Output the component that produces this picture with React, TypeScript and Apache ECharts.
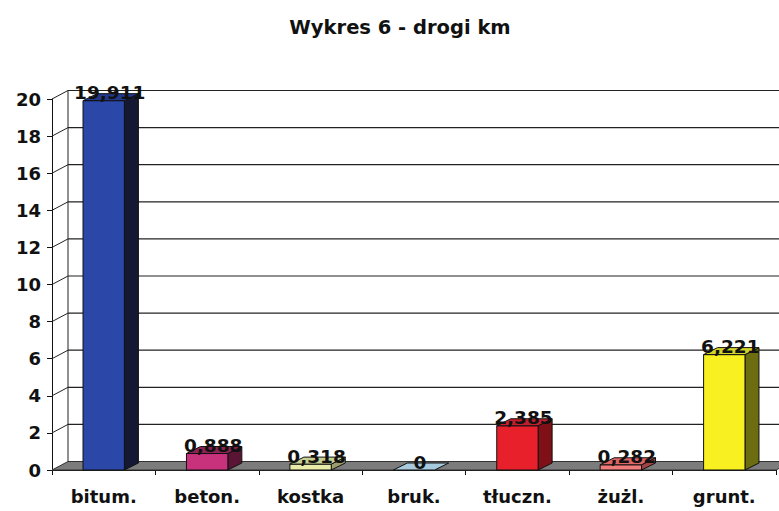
import React, { useEffect, useRef } from "react";
import * as echarts from "echarts";

const categories = ["bitum.", "beton.", "kostka", "bruk.", "tłuczn.", "żużl.", "grunt."];
const values = [19.911, 0.888, 0.318, 0, 2.385, 0.282, 6.221];
const tickValues = [0, 2, 4, 6, 8, 10, 12, 14, 16, 18, 20];

const frontColors = ["#2b47a8", "#c8327c", "#e8eca8", "#a8cade", "#e8202c", "#f07c7c", "#f8f020"];
const topColors = ["#22388a", "#8e2254", "#c8d092", "#a8cade", "#c41e2c", "#e06464", "#d4d42a"];
const sideColors = ["#141833", "#5a1535", "#9c9c6c", "#7a98aa", "#801018", "#a04444", "#6c6c10"];

const FONT = '"DejaVu Sans", sans-serif';
const DX = 16;
const DY = -8.5;
const BDX = 14;
const BDY = -7;

function fmt(v: number) {
  return v === 0 ? "0" : v.toFixed(3).replace(".", ",");
}

export default function App() {
  const ref = useRef<HTMLDivElement>(null);
  useEffect(() => {
    document.body.style.margin = "0";
    if (!ref.current) return;
    const chart = echarts.init(ref.current, null, { renderer: "svg" });
    chart.setOption({
      animation: false,
      backgroundColor: "#ffffff",
      title: {
        text: "Wykres 6 - drogi km",
        left: 395,
        textAlign: "center",
        top: 12,
        textStyle: { fontFamily: FONT, fontWeight: "bold", fontSize: 19.5, color: "#111" },
      },
      grid: { left: 52, right: 3, top: 99, bottom: 41 },
      xAxis: {
        type: "category",
        data: categories,
        boundaryGap: true,
        axisLine: { show: true, lineStyle: { color: "#111", width: 1 } },
        axisTick: { show: true, length: 5, lineStyle: { color: "#111" } },
        axisLabel: { fontFamily: FONT, fontWeight: "bold", fontSize: 18, color: "#111", margin: 17 },
        splitLine: { show: false },
      },
      yAxis: {
        type: "value",
        min: 0,
        max: 20,
        interval: 2,
        axisLine: { show: true, lineStyle: { color: "#111", width: 1 } },
        axisTick: { show: true, length: 5, lineStyle: { color: "#111" } },
        axisLabel: { fontFamily: FONT, fontWeight: "bold", fontSize: 18, color: "#111", margin: 11 },
        splitLine: { show: false },
      },
      series: [
        {
          type: "custom",
          clip: false,
          z: 1,
          silent: true,
          data: tickValues.map((t) => [0, t]),
          renderItem: (params: any, api: any) => {
            const cs = params.coordSys;
            const t = api.value(1);
            const y = api.coord([0, t])[1];
            const y0 = api.coord([0, 0])[1];
            const y20 = api.coord([0, 20])[1];
            const x0 = cs.x;
            const x1 = cs.x + cs.width;
            const children: any[] = [];
            if (t === 0) {
              children.push({
                type: "polygon",
                shape: { points: [[x0, y0], [x1, y0], [x1 + DX, y0 + DY], [x0 + DX, y0 + DY]] },
                style: { fill: "#7c7c7c", stroke: "#333", lineWidth: 1 },
              });
              children.push({
                type: "line",
                shape: { x1: x0 + DX, y1: y0 + DY, x2: x0 + DX, y2: y20 + DY },
                style: { stroke: "#222", lineWidth: 1 },
              });
            } else {
              children.push({
                type: "line",
                shape: { x1: x0, y1: y, x2: x0 + DX, y2: y + DY },
                style: { stroke: "#222", lineWidth: 1 },
              });
              children.push({
                type: "line",
                shape: { x1: x0 + DX, y1: y + DY, x2: x1 + DX, y2: y + DY },
                style: { stroke: "#222", lineWidth: 1.2 },
              });
            }
            return { type: "group", children };
          },
        },
        {
          type: "custom",
          clip: false,
          z: 3,
          data: values.map((v, i) => [i, v]),
          renderItem: (params: any, api: any) => {
            const i = api.value(0);
            const v = api.value(1);
            const top = api.coord([i, v]);
            const base = api.coord([i, 0]);
            const w = api.size([1, 0])[0] * 0.4;
            const cx = top[0];
            const xl = cx - w / 2;
            const xr = cx + w / 2;
            const yt = top[1];
            const yb = base[1];
            const children: any[] = [];
            if (yb - yt > 0.5) {
              children.push({
                type: "polygon",
                shape: { points: [[xr, yb], [xr + BDX, yb + BDY], [xr + BDX, yt + BDY], [xr, yt]] },
                style: { fill: sideColors[i], stroke: "#111", lineWidth: 1 },
              });
              children.push({
                type: "rect",
                shape: { x: xl, y: yt, width: w, height: yb - yt },
                style: { fill: frontColors[i], stroke: "#111", lineWidth: 1 },
              });
            }
            children.push({
              type: "polygon",
              shape: { points: [[xl, yt], [xr, yt], [xr + BDX, yt + BDY], [xl + BDX, yt + BDY]] },
              style: { fill: topColors[i], stroke: "#111", lineWidth: 1 },
            });
            children.push({
              type: "text",
              style: {
                text: fmt(v),
                x: cx + BDX / 2 - 1,
                y: yt - 8,
                align: "center",
                verticalAlign: "middle",
                fontFamily: FONT,
                fontWeight: "bold",
                fontSize: 18.5,
                fill: "#111",
              },
            });
            return { type: "group", children };
          },
        },
      ],
    });
    return () => chart.dispose();
  }, []);
  return <div ref={ref} style={{ width: 779, height: 511 }} />;
}
